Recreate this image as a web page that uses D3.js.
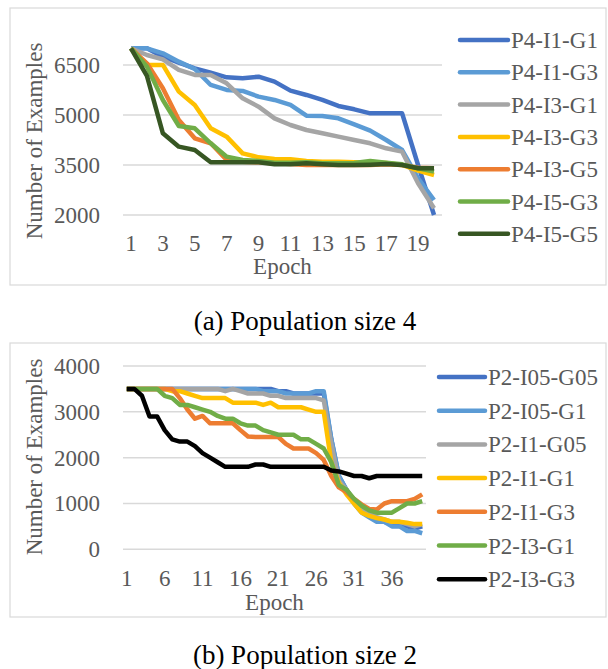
<!DOCTYPE html>
<html>
<head>
<meta charset="utf-8">
<script src="https://cdn.jsdelivr.net/npm/d3@7"></script>
<style>
  body { margin: 0; background: #fff; }
  svg { display: block; }
</style>
</head>
<body>
<div id="chart"></div>
<script>
// ---- data: population size 4 ----
const epochsA = d3.range(1, 21);
const namesA = ["P4-I1-G1", "P4-I1-G3", "P4-I3-G1", "P4-I3-G3", "P4-I3-G5", "P4-I5-G3", "P4-I5-G5"];
const colorsA = ["#4472C4", "#5B9BD5", "#A5A5A5", "#FFC000", "#ED7D31", "#70AD47", "#375623"];
const p4i1g1 = [7000, 7000, 6750, 6570, 6400, 6270, 6130, 6100, 6150, 6000, 5730, 5600, 5450, 5270, 5170, 5050, 5050, 5050, 3500, 2000];
const p4i1g3 = [7000, 7000, 6850, 6600, 6380, 5900, 5750, 5720, 5550, 5450, 5300, 4980, 4970, 4900, 4720, 4530, 4250, 3950, 3100, 2450];
const p4i3g1 = [7000, 6800, 6670, 6350, 6200, 6200, 5950, 5500, 5250, 4900, 4700, 4550, 4450, 4350, 4250, 4150, 4000, 3900, 2950, 2200];
const p4i3g3 = [7000, 6500, 6500, 5700, 5300, 4600, 4350, 3850, 3730, 3680, 3670, 3620, 3600, 3600, 3580, 3570, 3560, 3500, 3330, 3200];
const p4i3g5 = [7000, 6550, 5800, 4850, 4300, 4150, 3650, 3600, 3580, 3550, 3530, 3500, 3500, 3500, 3500, 3500, 3520, 3500, 3420, 3400];
const p4i5g3 = [7000, 6450, 5450, 4670, 4600, 4150, 3750, 3650, 3620, 3570, 3570, 3580, 3550, 3550, 3560, 3620, 3570, 3520, 3400, 3300];
const p4i5g5 = [7000, 6170, 4450, 4050, 3950, 3580, 3580, 3580, 3580, 3520, 3520, 3550, 3520, 3500, 3500, 3510, 3530, 3500, 3400, 3400];
const seriesA = [p4i1g1, p4i1g3, p4i3g1, p4i3g3, p4i3g5, p4i5g3, p4i5g5];
const yTicksA = [2000, 3500, 5000, 6500];
const xTicksA = [1, 3, 5, 7, 9, 11, 13, 15, 17, 19];

// ---- data: population size 2 ----
const epochsB = d3.range(1, 41);
const namesB = ["P2-I05-G05", "P2-I05-G1", "P2-I1-G05", "P2-I1-G1", "P2-I1-G3", "P2-I3-G1", "P2-I3-G3"];
const colorsB = ["#4472C4", "#5B9BD5", "#A5A5A5", "#FFC000", "#ED7D31", "#70AD47", "#000000"];
const p2i05g05 = [3500, 3500, 3500, 3500, 3500, 3500, 3500, 3500, 3500, 3500, 3500, 3500, 3500, 3500, 3500, 3500, 3500, 3500, 3500, 3500,
                  3450, 3450, 3400, 3400, 3400, 3400, 3400, 2400, 1600, 1300, 1050, 850, 750, 650, 600, 550, 550, 500, 450, 500];
const p2i05g1 = [3500, 3500, 3500, 3500, 3500, 3500, 3500, 3500, 3500, 3500, 3500, 3500, 3500, 3500, 3500, 3500, 3500, 3500, 3450, 3450,
                 3450, 3400, 3400, 3400, 3400, 3450, 3450, 2400, 1600, 1300, 1000, 800, 700, 600, 600, 500, 500, 400, 400, 350];
const p2i1g05 = [3500, 3500, 3500, 3500, 3500, 3500, 3500, 3500, 3500, 3500, 3500, 3500, 3500, 3450, 3500, 3450, 3400, 3400, 3400, 3350,
                 3350, 3300, 3300, 3300, 3300, 3300, 3250, 2300, 1500, 1300, 1050, 900, 800, 700, 650, 600, 600, 550, 500, 550];
const p2i1g1 = [3500, 3500, 3500, 3500, 3500, 3500, 3450, 3450, 3400, 3350, 3300, 3300, 3300, 3300, 3200, 3200, 3200, 3200, 3150, 3200,
                3100, 3100, 3100, 3100, 3050, 3000, 3000, 1900, 1450, 1200, 1000, 800, 730, 680, 650, 600, 600, 580, 550, 550];
const p2i1g3 = [3500, 3500, 3500, 3500, 3500, 3500, 3500, 3300, 3050, 2850, 2910, 2750, 2750, 2750, 2750, 2600, 2460, 2450, 2450, 2450,
                2450, 2300, 2200, 2200, 2200, 2100, 1950, 1600, 1350, 1250, 1100, 980, 880, 870, 1000, 1050, 1050, 1050, 1100, 1200];
const p2i3g1 = [3500, 3500, 3500, 3500, 3500, 3350, 3300, 3150, 3150, 3100, 3050, 3000, 2910, 2850, 2850, 2750, 2700, 2700, 2600, 2550,
                2500, 2500, 2500, 2400, 2400, 2300, 2200, 1900, 1400, 1300, 1100, 950, 850, 800, 800, 800, 900, 1000, 1000, 1050];
const p2i3g3 = [3500, 3500, 3350, 2900, 2900, 2600, 2400, 2350, 2350, 2250, 2100, 2000, 1900, 1800, 1800, 1800, 1800, 1850, 1850, 1800,
                1800, 1800, 1800, 1800, 1800, 1800, 1800, 1720, 1700, 1650, 1600, 1600, 1550, 1600, 1600, 1600, 1600, 1600, 1600, 1600];
const seriesB = [p2i05g05, p2i05g1, p2i1g05, p2i1g1, p2i1g3, p2i3g1, p2i3g3];
const yTicksB = [0, 1000, 2000, 3000, 4000];
const xTicksB = [1, 6, 11, 16, 21, 26, 31, 36];

const W = 608, H = 669;
const textColor = "#595959";
const serif = "'Liberation Serif', 'Times New Roman', serif";

const svg = d3.select("#chart").append("svg")
    .attr("width", W)
    .attr("height", H);

function drawPanel(cfg) {
    const g = svg.append("g");

    // outer frame
    g.append("rect")
        .attr("x", cfg.frame[0]).attr("y", cfg.frame[1])
        .attr("width", cfg.frame[2]).attr("height", cfg.frame[3])
        .attr("fill", "none")
        .attr("stroke", "#d9d9d9")
        .attr("stroke-width", 1.2);

    const x = d3.scaleBand()
        .domain(cfg.epochs)
        .range([cfg.left, cfg.right]);
    const cx = d => x(d) + x.bandwidth() / 2;

    const y = d3.scaleLinear()
        .domain(cfg.yDomain)
        .range([cfg.bottom, cfg.top]);

    // gridlines
    g.append("g")
        .selectAll("line")
        .data(cfg.yTicks)
        .enter().append("line")
        .attr("x1", cfg.left).attr("x2", cfg.right)
        .attr("y1", d => y(d)).attr("y2", d => y(d))
        .attr("stroke", "#d9d9d9")
        .attr("stroke-width", 1.5);

    // y axis labels
    const yAxis = g.append("g")
        .attr("transform", `translate(${cfg.left},0)`)
        .call(d3.axisLeft(y).tickValues(cfg.yTicks).tickSize(0).tickPadding(23).tickFormat(d3.format("d")));
    yAxis.select(".domain").remove();
    yAxis.selectAll("text")
        .style("font-family", serif)
        .style("font-size", "23px")
        .attr("fill", textColor);

    // x axis labels
    const xAxis = g.append("g")
        .attr("transform", `translate(0,${cfg.bottom})`)
        .call(d3.axisBottom(x).tickValues(cfg.xTicks).tickSize(0).tickPadding(cfg.xPad));
    xAxis.select(".domain").remove();
    xAxis.selectAll("text")
        .style("font-family", serif)
        .style("font-size", "23px")
        .attr("fill", textColor);

    // axis titles
    g.append("text")
        .attr("x", (cfg.left + cfg.right) / 2)
        .attr("y", cfg.epochY)
        .attr("text-anchor", "middle")
        .style("font-family", serif)
        .style("font-size", "23px")
        .attr("fill", textColor)
        .text("Epoch");

    g.append("text")
        .attr("transform", `translate(42,${cfg.yTitleY}) rotate(-90)`)
        .attr("text-anchor", "middle")
        .style("font-family", serif)
        .style("font-size", "23px")
        .attr("fill", textColor)
        .text("Number of Examples");

    // series lines
    const line = d3.line()
        .x((d, i) => cx(cfg.epochs[i]))
        .y(d => y(d));

    g.append("g")
        .selectAll("path")
        .data(cfg.series)
        .enter().append("path")
        .attr("d", line)
        .attr("fill", "none")
        .attr("stroke", (d, i) => cfg.colors[i])
        .attr("stroke-width", 4.5)
        .attr("stroke-linejoin", "round");

    // legend
    const legend = g.append("g")
        .selectAll("g")
        .data(cfg.names)
        .enter().append("g")
        .attr("transform", (d, i) => `translate(${cfg.legendX},${cfg.legendY + i * cfg.legendStep})`);

    legend.append("line")
        .attr("x1", 0).attr("x2", cfg.swatch)
        .attr("y1", 0).attr("y2", 0)
        .attr("stroke", (d, i) => cfg.colors[i])
        .attr("stroke-width", 4.5)
        .attr("stroke-linecap", "round");

    legend.append("text")
        .attr("x", cfg.swatch + 3)
        .attr("y", 8)
        .style("font-family", serif)
        .style("font-size", "23px")
        .attr("fill", textColor)
        .text(d => d);

    // caption
    svg.append("text")
        .attr("x", 305)
        .attr("y", cfg.captionY)
        .attr("text-anchor", "middle")
        .style("font-family", serif)
        .style("font-size", "27px")
        .attr("fill", "#000")
        .text(cfg.caption);
}

drawPanel({
    frame: [10, 8, 596, 277],
    epochs: epochsA, series: seriesA, names: namesA, colors: colorsA,
    left: 123, right: 442, top: 48.3, bottom: 215,
    yDomain: [2000, 7000], yTicks: yTicksA, xTicks: xTicksA, xPad: 20,
    epochY: 274, yTitleY: 141,
    legendX: 460, legendY: 40, legendStep: 32.3, swatch: 48,
    caption: "(a) Population size 4", captionY: 330
});

drawPanel({
    frame: [10, 343, 596, 274],
    epochs: epochsB, series: seriesB, names: namesB, colors: colorsB,
    left: 123, right: 426, top: 366, bottom: 549.3,
    yDomain: [0, 4000], yTicks: yTicksB, xTicks: xTicksB, xPad: 20,
    epochY: 610, yTitleY: 457,
    legendX: 439, legendY: 377, legendStep: 33.7, swatch: 46,
    caption: "(b) Population size 2", captionY: 664
});
</script>
</body>
</html>
